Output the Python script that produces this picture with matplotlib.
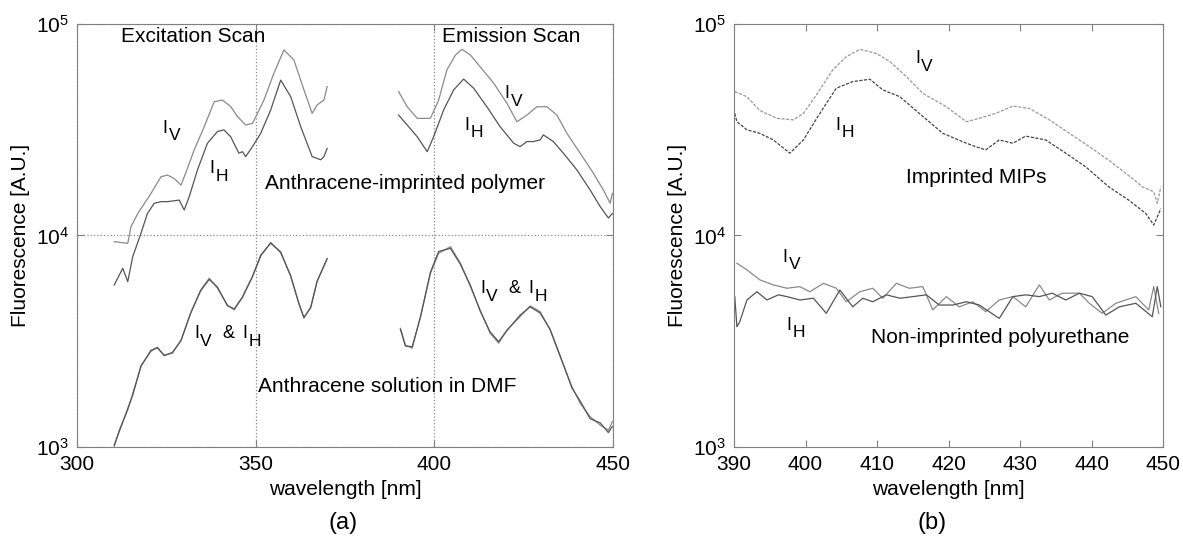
""" Fluorescence anisotropy of anthracene-imprinted polymer: excitation and
emission scans (a) and imprinted vs non-imprinted polyurethane (b). """

import matplotlib
matplotlib.use('Agg')
import matplotlib.pyplot as plt
from matplotlib.ticker import LogLocator, NullLocator

plt.rcParams['font.family'] = ['Liberation Sans', 'DejaVu Sans']
plt.rcParams['font.size'] = 15
plt.rcParams['mathtext.fontset'] = 'custom'
plt.rcParams['mathtext.rm'] = 'Liberation Sans'
plt.rcParams['mathtext.it'] = 'Liberation Sans'

# (a) excitation scan, anthracene-imprinted polymer
exc_wl_iv = [310.4, 314.2, 315.1, 317.0, 320.7, 323.5, 325.3, 327.2, 329.1,
             330.4, 332.8, 335.6, 338.4, 340.7, 343.0, 344.9, 347.2, 349.1,
             350.5, 352.3, 355.1, 357.9, 360.7, 363.5, 365.8, 367.2, 369.1,
             370.0]
exc_iv = [9350, 9180, 11000, 12700, 15800, 18950, 19300, 18600, 17300, 19700,
          25400, 32700, 42900, 43700, 40700, 36500, 33300, 33900, 37800, 43700,
          58500, 75400, 67600, 48800, 37800, 41400, 43700, 50600]
exc_wl_ih = [310.4, 312.8, 314.2, 315.6, 317.9, 319.7, 321.6, 323.5, 325.3,
             328.6, 330.0, 331.4, 333.7, 336.5, 339.3, 341.1, 343.0, 345.3,
             346.3, 347.2, 349.1, 351.4, 354.2, 357.0, 359.8, 362.6, 365.8,
             368.2, 369.1, 370.0]
exc_ih = [5830, 7000, 6050, 7950, 10240, 12700, 14200, 14450, 14450, 14700,
          13200, 15250, 20400, 27300, 31000, 31600, 29300, 24500, 24900, 23600,
          26300, 30400, 39200, 54300, 45300, 32700, 23600, 22800, 23600, 25800]

# (a) emission scan, anthracene-imprinted polymer
em_wl_iv = [390.0, 392.4, 395.2, 398.9, 401.2, 403.5, 405.9, 407.7, 410.1,
            412.8, 416.6, 420.3, 423.1, 425.9, 428.7, 431.5, 434.3, 437.1,
            440.8, 444.5, 447.3, 449.2, 449.8]
em_iv = [47900, 40600, 35800, 35800, 43700, 60600, 71300, 75900, 71300, 62800,
         52500, 42200, 34500, 37100, 40600, 40600, 37100, 30400, 24500, 19700,
         16400, 14200, 15800]
em_wl_ih = [390.0, 392.4, 395.2, 398.0, 399.8, 402.6, 405.4, 408.2, 411.0,
            414.7, 418.4, 422.2, 424.0, 425.9, 427.7, 429.6, 430.5, 433.3,
            436.1, 439.9, 443.6, 446.4, 448.7, 449.8]
em_ih = [37100, 33300, 29300, 24900, 29300, 39200, 48800, 54900, 49700, 40600,
         32700, 27300, 26300, 27800, 27800, 28300, 29900, 27800, 24500, 20400,
         16400, 13700, 12100, 12700]

# (a) anthracene solution in DMF
sol_exc_wl = [310.4, 311.8, 314.2, 315.6, 317.9, 320.7, 322.5, 324.4, 326.7,
              329.1, 331.8, 334.6, 337.0, 339.3, 342.1, 344.0, 346.3, 349.1,
              351.4, 354.2, 357.0, 359.8, 362.1, 363.5, 365.4, 367.2, 370.0]
sol_exc_iv = [1000, 1200, 1495, 1795, 2400, 2880, 2930, 2725, 2775, 3205,
              4285, 5525, 6280, 5630, 4690, 4445, 5135, 6385, 8090, 9185,
              8385, 6385, 4780, 4060, 4600, 6050, 7800]
sol_exc_ih = [1020, 1180, 1520, 1760, 2420, 2840, 2960, 2700, 2800, 3180,
              4300, 5480, 6200, 5700, 4650, 4500, 5100, 6400, 8000, 9250,
              8300, 6450, 4750, 4100, 4550, 6100, 7750]
sol_em_wl = [390.5, 391.9, 393.8, 396.1, 398.9, 401.2, 404.5, 407.3, 410.1,
             412.8, 415.6, 418.0, 420.3, 424.0, 426.8, 429.6, 432.4, 435.2,
             438.5, 440.8, 443.6, 446.4, 448.7, 449.8]
sol_em_iv = [3640, 3035, 2930, 4135, 6625, 8240, 8850, 7390, 5730, 4445, 3450,
             3095, 3575, 4135, 4645, 4365, 3575, 2675, 1930, 1610, 1390, 1270,
             1200, 1318]
sol_em_ih = [3600, 3000, 2980, 4100, 6700, 8400, 8700, 7300, 5800, 4400, 3500,
             3150, 3550, 4200, 4600, 4300, 3600, 2700, 1900, 1650, 1360, 1300,
             1170, 1250]

# (b) imprinted MIPs
mip_wl_iv = [390.1, 391.8, 393.6, 396.0, 398.3, 399.7, 401.5, 403.8, 405.7,
             407.6, 409.9, 411.8, 414.1, 416.4, 419.7, 422.5, 424.3, 426.6,
             429.0, 431.3, 434.1, 436.9, 439.7, 442.4, 444.8, 447.1, 448.7,
             449.2, 449.7]
mip_iv = [47900, 45300, 39000, 35800, 35200, 37800, 46100, 60600, 70000, 75900,
          72600, 66400, 56400, 47000, 40600, 34500, 35800, 37800, 40900, 39900,
          35200, 30400, 26300, 22700, 19700, 17000, 16100, 14200, 17000]
mip_wl_ih = [390.1, 390.4, 391.8, 393.6, 395.5, 397.8, 399.7, 402.0, 404.3,
             406.6, 409.0, 410.8, 413.2, 415.9, 419.2, 422.5, 423.8, 425.2,
             427.1, 429.0, 430.8, 433.6, 436.4, 439.2, 442.4, 445.2, 447.6,
             448.7, 449.7]
mip_ih = [37800, 34500, 31600, 30400, 28300, 24500, 28300, 37800, 49700, 53400,
          54800, 48800, 45300, 37800, 30400, 27300, 26300, 25400, 28300, 27300,
          29500, 28300, 24500, 21100, 17000, 14700, 12700, 11200, 13400]

# (b) non-imprinted polyurethane
non_wl_iv = [390.4, 391.8, 393.6, 395.5, 397.4, 399.2, 400.6, 402.5, 404.3,
             405.7, 407.6, 409.4, 410.8, 412.7, 414.5, 416.4, 417.8, 419.7,
             421.5, 423.4, 425.2, 427.1, 429.0, 430.8, 432.7, 434.1, 435.9,
             438.3, 439.7, 441.5, 443.4, 446.2, 448.0, 448.7, 449.4]
non_iv = [7390, 6880, 6170, 5840, 5630, 5730, 5420, 5940, 5630, 4860, 5420,
          5630, 5050, 5940, 5630, 5730, 4445, 5140, 4600, 4860, 4365, 4955,
          5140, 4600, 5840, 4955, 5335, 5335, 4780, 4285, 4780, 5140, 4445,
          5730, 4285]
non_wl_ih = [390.1, 390.4, 390.8, 391.8, 393.2, 394.6, 396.2, 397.4, 399.2,
             401.1, 402.9, 404.8, 406.6, 408.0, 409.4, 411.3, 413.2, 415.0,
             416.9, 418.7, 420.6, 422.5, 424.3, 427.1, 429.0, 430.8, 432.7,
             434.5, 436.4, 438.3, 440.1, 442.0, 443.9, 446.2, 448.5, 449.2,
             449.7]
non_ih = [5140, 3705, 3910, 4955, 5420, 4955, 5240, 5140, 4955, 5050, 4285,
          5525, 4600, 5050, 4860, 5240, 5050, 5140, 5240, 4690, 4690, 4860,
          4690, 4055, 5140, 5240, 5140, 5335, 4955, 5335, 5140, 4205, 4600,
          4780, 4130, 5730, 4600]

c_v, c_h = '#8a8a8a', '#555555'
frame = '#808080'


def pol_label(ax, x, y, sub, dx=0.0):
    # big "I" with a nearly full-size, lowered polarisation letter
    ax.annotate('I', (x, y), xytext=(dx, 0), textcoords='offset points',
                fontsize=13, ha='left', va='baseline')
    ax.annotate(sub, (x, y), xytext=(dx + 4.4, -5.3),
                textcoords='offset points', fontsize=12.5, ha='left',
                va='baseline')


def both_label(ax, x, y):
    pol_label(ax, x, y, 'V')
    ax.annotate('&', (x, y), xytext=(20, 0), textcoords='offset points',
                fontsize=13, ha='left', va='baseline')
    pol_label(ax, x, y, 'H', dx=34.5)


def style(ax, xlim, xticks):
    ax.set_yscale('log')
    ax.set_xlim(*xlim)
    ax.set_ylim(1e3, 1e5)
    ax.set_xticks(xticks)
    ax.yaxis.set_major_locator(LogLocator(base=10, numticks=5))
    ax.yaxis.set_minor_locator(NullLocator())
    ax.tick_params(direction='in', top=True, right=True, length=5,
                   color=frame, labelsize=15, pad=6)
    for sp in ax.spines.values():
        sp.set_color(frame)
    ax.set_xlabel('wavelength [nm]', fontsize=15)
    ax.set_ylabel('Fluorescence [A.U.]', fontsize=15)


fig = plt.figure(figsize=(11.83, 5.5), dpi=100)
axa = fig.add_axes([0.0651, 0.1873, 0.4531, 0.7691])
axb = fig.add_axes([0.6205, 0.1873, 0.3626, 0.7691])

# (a)
lw = 0.9
axa.plot(exc_wl_iv, exc_iv, c=c_v, lw=lw)
axa.plot(exc_wl_ih, exc_ih, c=c_h, lw=lw)
axa.plot(em_wl_iv, em_iv, c=c_v, lw=lw)
axa.plot(em_wl_ih, em_ih, c=c_h, lw=lw)
axa.plot(sol_exc_wl, sol_exc_iv, c=c_v, lw=lw)
axa.plot(sol_exc_wl, sol_exc_ih, c=c_h, lw=lw)
axa.plot(sol_em_wl, sol_em_iv, c=c_v, lw=lw)
axa.plot(sol_em_wl, sol_em_ih, c=c_h, lw=lw)
style(axa, (300, 450), [300, 350, 400, 450])
axa.grid(True, which='major', ls=':', color='#888888', lw=0.9)

axa.text(332.4, 86900, 'Excitation Scan', ha='center', va='center')
axa.text(421.5, 86900, 'Emission Scan', ha='center', va='center')
pol_label(axa, 323.9, 30600, 'V')
pol_label(axa, 337.0, 19700, 'H')
pol_label(axa, 419.6, 44600, 'V')
pol_label(axa, 408.4, 31600, 'H')
axa.text(352.5, 17700, 'Anthracene-imprinted polymer', ha='left', va='center')
both_label(axa, 332.8, 3270)
both_label(axa, 412.8, 5335)
axa.text(350.6, 1925, 'Anthracene solution in DMF', ha='left', va='center')

# (b)
axb.plot(mip_wl_iv, mip_iv, c='#999999', lw=lw, ls=(0, (2.5, 1.2)))
axb.plot(mip_wl_ih, mip_ih, c='#444444', lw=lw, ls=(0, (2.5, 1.2)))
axb.plot(non_wl_iv, non_iv, c=c_v, lw=lw)
axb.plot(non_wl_ih, non_ih, c=c_h, lw=lw)
style(axb, (390, 450), [390, 400, 410, 420, 430, 440, 450])

pol_label(axb, 415.3, 65200, 'V')
pol_label(axb, 404.2, 31600, 'H')
axb.text(423.9, 18900, 'Imprinted MIPs', ha='center', va='center')
pol_label(axb, 396.8, 7520, 'V')
pol_label(axb, 397.3, 3575, 'H')
axb.text(427.2, 3310, 'Non-imprinted polyurethane', ha='center', va='center')

fig.text(0.29, 0.049, '(a)', ha='center', va='center', fontsize=17)
fig.text(0.788, 0.049, '(b)', ha='center', va='center', fontsize=17)

fig.savefig('out.png', dpi=100)
